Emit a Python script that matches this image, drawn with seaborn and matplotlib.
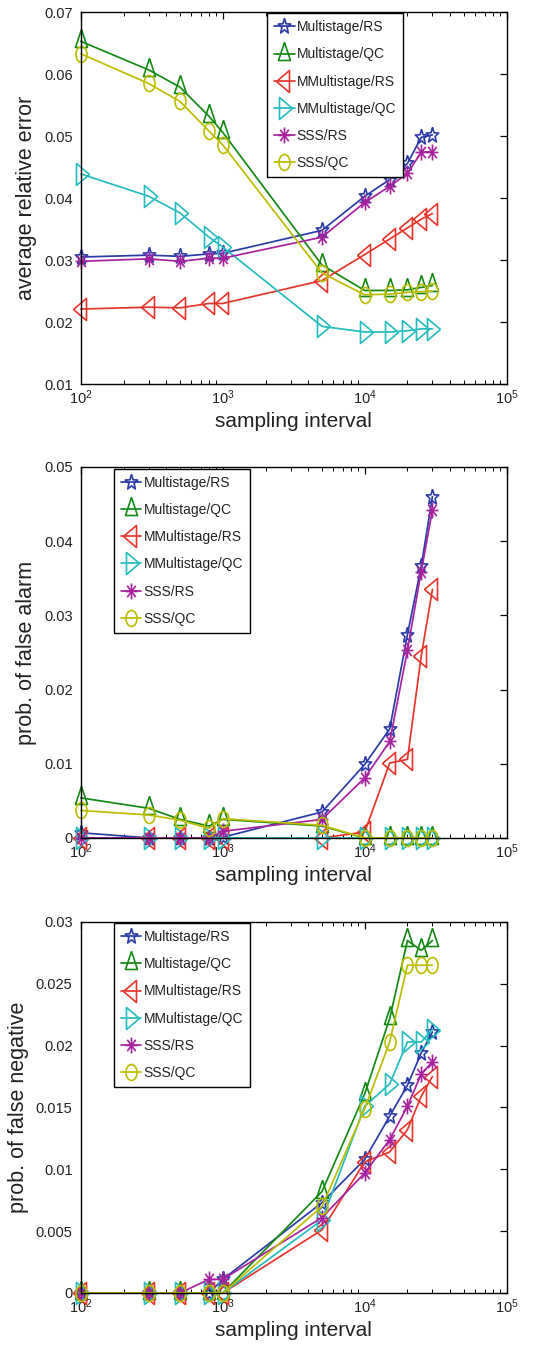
import numpy as np
import pandas as pd
import matplotlib
matplotlib.use("Agg")
import matplotlib.pyplot as plt
import seaborn as sns
from matplotlib.path import Path
from matplotlib.ticker import FuncFormatter, LogLocator, NullFormatter

# ---------------- data ----------------
x_vals = [100, 300, 500, 800, 1000, 5000, 10000, 15000, 20000, 25000, 30000]
series_names = ["Multistage/RS", "Multistage/QC", "MMultistage/RS",
                "MMultistage/QC", "SSS/RS", "SSS/QC"]

# panel 1: average relative error
err_multi_rs = [0.0305, 0.0308, 0.0306, 0.0310, 0.0311, 0.0348, 0.0403, 0.0430, 0.0456, 0.0498, 0.0502]
err_multi_qc = [0.0653, 0.0607, 0.0579, 0.0532, 0.0506, 0.0292, 0.0251, 0.0251, 0.0252, 0.0256, 0.0259]
err_mmulti_rs = [0.0221, 0.0224, 0.0223, 0.0230, 0.0230, 0.0267, 0.0309, 0.0334, 0.0352, 0.0366, 0.0375]
err_mmulti_qc = [0.0439, 0.0403, 0.0376, 0.0337, 0.0321, 0.0193, 0.0184, 0.0184, 0.0186, 0.0189, 0.0189]
err_sss_rs = [0.0298, 0.0302, 0.0298, 0.0303, 0.0303, 0.0337, 0.0393, 0.0419, 0.0440, 0.0474, 0.0475]
err_sss_qc = [0.0633, 0.0585, 0.0556, 0.0508, 0.0486, 0.0279, 0.0244, 0.0245, 0.0248, 0.0249, 0.0250]

# panel 2: prob. of false alarm
fa_multi_rs = [0.0007, 0.0, 0.0, 0.0, 0.0001, 0.0035, 0.0099, 0.0147, 0.0274, 0.0366, 0.0460]
fa_multi_qc = [0.0054, 0.0040, 0.0025, 0.0016, 0.0025, 0.0016, 0.0, 0.0, 0.0, 0.0, 0.0]
fa_mmulti_rs = [0.0, 0.0, 0.0, 0.0, 0.0, 0.0, 0.0008, 0.0101, 0.0106, 0.0245, 0.0335]
fa_mmulti_qc = [0.0, 0.0, 0.0, 0.0, 0.0, 0.0, 0.0, 0.0, 0.0, 0.0, 0.0]
fa_sss_rs = [0.0, 0.0, 0.0, 0.0, 0.0009, 0.0025, 0.0081, 0.0130, 0.0253, 0.0359, 0.0442]
fa_sss_qc = [0.0037, 0.0031, 0.0024, 0.0013, 0.0026, 0.0017, 0.0, 0.0, 0.0, 0.0, 0.0]

# panel 3: prob. of false negative
fn_multi_rs = [0.0, 0.0, 0.0, 0.0, 0.0011, 0.0073, 0.0108, 0.0143, 0.0168, 0.0194, 0.0211]
fn_multi_qc = [0.0, 0.0, 0.0, 0.0, 0.0, 0.0082, 0.0161, 0.0222, 0.0285, 0.0277, 0.0285]
fn_mmulti_rs = [0.0, 0.0, 0.0, 0.0, 0.0, 0.0051, 0.0106, 0.0114, 0.0132, 0.0159, 0.0175]
fn_mmulti_qc = [0.0, 0.0, 0.0, 0.0, 0.0, 0.0059, 0.0151, 0.0169, 0.0203, 0.0203, 0.0213]
fn_sss_rs = [0.0, 0.0, 0.0, 0.0011, 0.0011, 0.0061, 0.0097, 0.0124, 0.0151, 0.0177, 0.0187]
fn_sss_qc = [0.0, 0.0, 0.0, 0.0, 0.0, 0.0070, 0.0149, 0.0203, 0.0265, 0.0265, 0.0265]

panels = [
    dict(ylabel="average relative error",
         data=[err_multi_rs, err_multi_qc, err_mmulti_rs, err_mmulti_qc, err_sss_rs, err_sss_qc],
         yticks=[0.01, 0.02, 0.03, 0.04, 0.05, 0.06, 0.07], ylim=(0.01, 0.07),
         legend_anchor=(0.437, 0.997)),
    dict(ylabel="prob. of false alarm",
         data=[fa_multi_rs, fa_multi_qc, fa_mmulti_rs, fa_mmulti_qc, fa_sss_rs, fa_sss_qc],
         yticks=[0, 0.01, 0.02, 0.03, 0.04, 0.05], ylim=(0, 0.05),
         legend_anchor=(0.077, 0.995)),
    dict(ylabel="prob. of false negative",
         data=[fn_multi_rs, fn_multi_qc, fn_mmulti_rs, fn_mmulti_qc, fn_sss_rs, fn_sss_qc],
         yticks=[0, 0.005, 0.01, 0.015, 0.02, 0.025, 0.03], ylim=(0, 0.03),
         legend_anchor=(0.077, 0.997)),
]

colors = ["#2b3ca8", "#138a13", "#e8352c", "#25bcbf", "#a8229f", "#bdbd00"]

# ---------------- markers (vertically stretched shapes, px units) ----------------
DPI = 100


def make_marker(verts, codes=None):
    verts = np.asarray(verts, float)
    p = Path(verts, codes)
    ms = 2 * np.max(np.abs(verts)) * 72.0 / DPI
    return p, ms


def star_verts(rx, ry, inner=0.4):
    pts = []
    for k in range(10):
        a = np.pi / 2 + k * np.pi / 5
        r = 1.0 if k % 2 == 0 else inner
        pts.append((rx * r * np.cos(a), ry * r * np.sin(a)))
    pts.append(pts[0])
    return pts


def ellipse_path(rx, ry):
    c = Path.unit_circle()
    v = c.vertices.copy()
    v[:, 0] *= rx
    v[:, 1] *= ry
    return v, c.codes


def asterisk(rx, ry):
    verts, codes = [], []
    for k in range(4):
        a = k * np.pi / 4
        dx, dy = rx * np.cos(a), ry * np.sin(a)
        verts += [(-dx, -dy), (dx, dy)]
        codes += [Path.MOVETO, Path.LINETO]
    return verts, codes


m_star = make_marker(star_verts(6.5, 8.0, 0.42))
m_up = make_marker([(0, 12), (-6, -6), (6, -6), (0, 12)])
m_left = make_marker([(-8, 0), (5, 11), (5, -11), (-8, 0)])
m_right = make_marker([(8, 0), (-5, 11), (-5, -11), (8, 0)])
av, ac = asterisk(6.0, 8.0)
m_ast = make_marker(av, ac)
ev, ec = ellipse_path(5.5, 8.0)
m_circ = make_marker(ev, ec)
markers = [m_star, m_up, m_left, m_right, m_ast, m_circ]

# ---------------- style ----------------
sns.set_style("white")
plt.rcParams.update({
    "font.family": ["Liberation Sans", "DejaVu Sans"],
    "mathtext.fontset": "custom",
    "mathtext.rm": "Liberation Sans",
    "mathtext.it": "Liberation Sans:italic",
    "mathtext.bf": "Liberation Sans:bold",
    "mathtext.default": "regular",
    "axes.edgecolor": "black",
    "axes.linewidth": 1.0,
    "xtick.direction": "in",
    "ytick.direction": "in",
    "xtick.color": "black",
    "ytick.color": "black",
    "text.color": "#222222",
    "axes.labelcolor": "#222222",
})

fig = plt.figure(figsize=(5.39, 13.57), dpi=DPI)
axes_rects = [
    [0.150, 0.717, 0.790, 0.274],
    [0.150, 0.3825, 0.790, 0.2734],
    [0.150, 0.0472, 0.790, 0.2734],
]

for rect, pnl in zip(axes_rects, panels):
    ax = fig.add_axes(rect)
    for name, ys, col, (mpath, ms) in zip(series_names, pnl["data"], colors, markers):
        df = pd.DataFrame({"x": x_vals, "y": ys})
        sns.lineplot(data=df, x="x", y="y", ax=ax, color=col, label=name,
                     marker=mpath, markersize=ms, markerfacecolor="none",
                     markeredgecolor=col, markeredgewidth=1.2, linewidth=1.25,
                     estimator=None, sort=False, clip_on=False)
    ax.set_xscale("log")
    ax.set_xlim(100, 100000)
    ax.set_ylim(*pnl["ylim"])
    ax.set_yticks(pnl["yticks"])
    ax.yaxis.set_major_formatter(FuncFormatter(lambda v, _: f"{v:g}"))
    ax.xaxis.set_major_locator(LogLocator(base=10, numticks=10))
    ax.xaxis.set_minor_locator(LogLocator(base=10, subs=np.arange(2, 10), numticks=20))
    ax.xaxis.set_minor_formatter(NullFormatter())
    ax.tick_params(axis="both", which="major", top=True, right=True, length=5,
                   width=0.9, labelsize=10.5, labelcolor="#222222")
    ax.tick_params(axis="y", which="major", pad=6)
    ax.tick_params(axis="x", which="major", pad=3)
    ax.tick_params(axis="x", which="minor", top=True, bottom=True, length=3, width=0.7)
    ax.set_xlabel("sampling interval", fontsize=15, labelpad=4)
    ax.set_ylabel(pnl["ylabel"], fontsize=15.5, labelpad=5)
    for sp in ax.spines.values():
        sp.set_visible(True)
        sp.set_color("black")
    leg = ax.legend(loc="upper left", bbox_to_anchor=pnl["legend_anchor"],
                    fontsize=10, frameon=True, fancybox=False, framealpha=1,
                    edgecolor="black", numpoints=1, handlelength=1.5,
                    handletextpad=0.15, labelspacing=0.95, borderpad=0.5,
                    borderaxespad=0.0)
    leg.get_frame().set_linewidth(1.0)
    for t in leg.get_texts():
        t.set_color("#222222")

fig.savefig("out.png", dpi=DPI)
